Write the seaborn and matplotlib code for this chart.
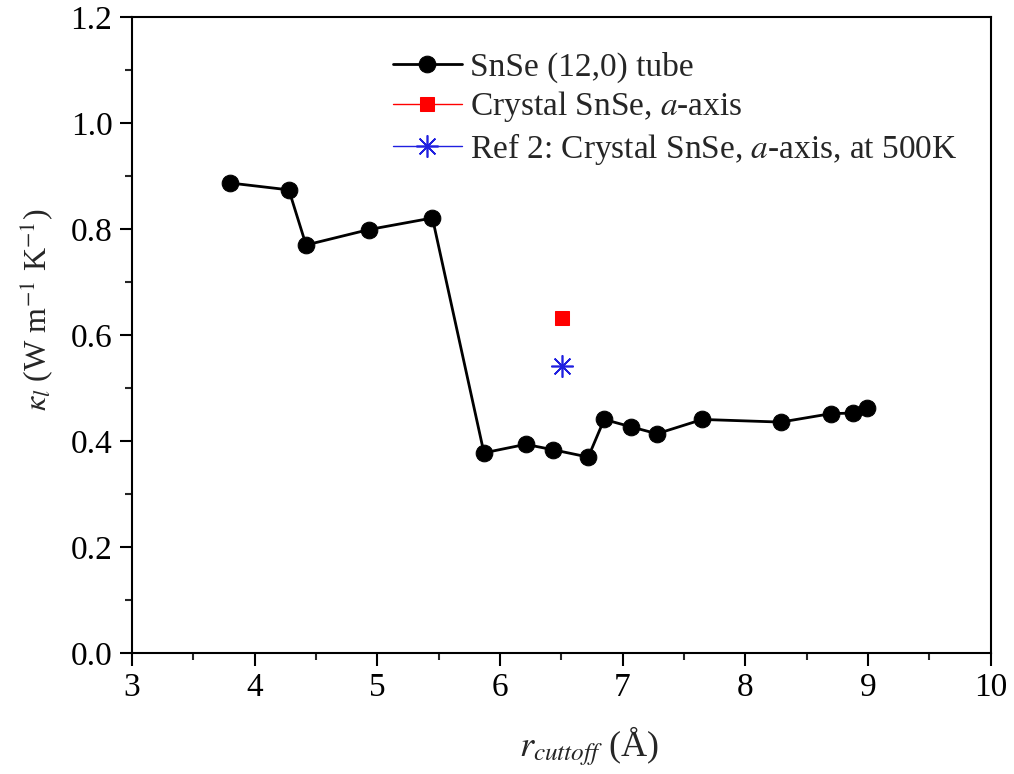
import numpy as np
import pandas as pd
import matplotlib
matplotlib.use('Agg')
import matplotlib.pyplot as plt
import seaborn as sns

# tube data
r_cut = [3.80, 4.28, 4.42, 4.93, 5.45, 5.87, 6.21, 6.43, 6.72, 6.85,
         7.07, 7.28, 7.65, 8.29, 8.70, 8.88, 8.99]
kappa = [0.887, 0.874, 0.770, 0.799, 0.821, 0.378, 0.394, 0.384, 0.370, 0.441,
         0.427, 0.414, 0.441, 0.436, 0.452, 0.453, 0.463]

# reference points
crystal_x = [6.51]
crystal_y = [0.632]
ref2_x = [6.51]
ref2_y = [0.542]

sns.set_style('ticks')
plt.rcParams['font.family'] = ['Liberation Serif', 'DejaVu Serif']
plt.rcParams['mathtext.fontset'] = 'stix'

fig = plt.figure(figsize=(10.14, 7.74), dpi=100)
ax = fig.add_axes([0.130, 0.156, 0.847, 0.822])

sns.lineplot(x=r_cut, y=kappa, ax=ax, color='black', linewidth=2,
             marker='o', markersize=12, markeredgecolor='black',
             markerfacecolor='black', label='SnSe (12,0) tube')
sns.lineplot(x=crystal_x, y=crystal_y, ax=ax, color='red', linewidth=1,
             marker='s', markersize=10, markeredgecolor='red',
             markerfacecolor='red', label='Crystal SnSe, $a$-axis')
sns.lineplot(x=ref2_x, y=ref2_y, ax=ax, color='#2020e0', linewidth=1,
             marker=(8, 2, 0), markersize=16, markeredgecolor='#2020e0',
             markeredgewidth=1.2, label='Ref 2: Crystal SnSe, $a$-axis, at 500K')

ax.set_xlim(3, 10)
ax.set_ylim(0, 1.2)
ax.set_xticks(np.arange(3, 10.1, 1))
ax.set_yticks(np.arange(0, 1.21, 0.2))
ax.set_yticklabels([f'{v:.1f}' for v in np.arange(0, 1.21, 0.2)])
ax.set_xticks(np.arange(3.5, 10, 1), minor=True)
ax.set_yticks(np.arange(0.1, 1.2, 0.2), minor=True)
ax.tick_params(which='major', direction='out', length=9, width=1.5,
               labelsize=24, colors='black', pad=5)
ax.tick_params(which='minor', direction='out', length=5, width=1.5)
for s in ax.spines.values():
    s.set_visible(True)
    s.set_linewidth(1.5)
    s.set_color('black')

ax.set_xlabel(r'$r_{cuttoff}$ (Å)', fontsize=26)
ax.xaxis.set_label_coords(0.532, -0.112)
ax.set_ylabel(r'$\kappa_l$ (W m$^{-1}$ K$^{-1}$)', fontsize=23)
ax.yaxis.set_label_coords(-0.09, 0.54)

ax.legend(loc='upper left', bbox_to_anchor=(0.304, 0.946), frameon=False,
          fontsize=24, handlelength=2.07, handletextpad=0.24, labelspacing=0.2,
          borderaxespad=0, borderpad=0)

fig.savefig('out.png', dpi=100)
